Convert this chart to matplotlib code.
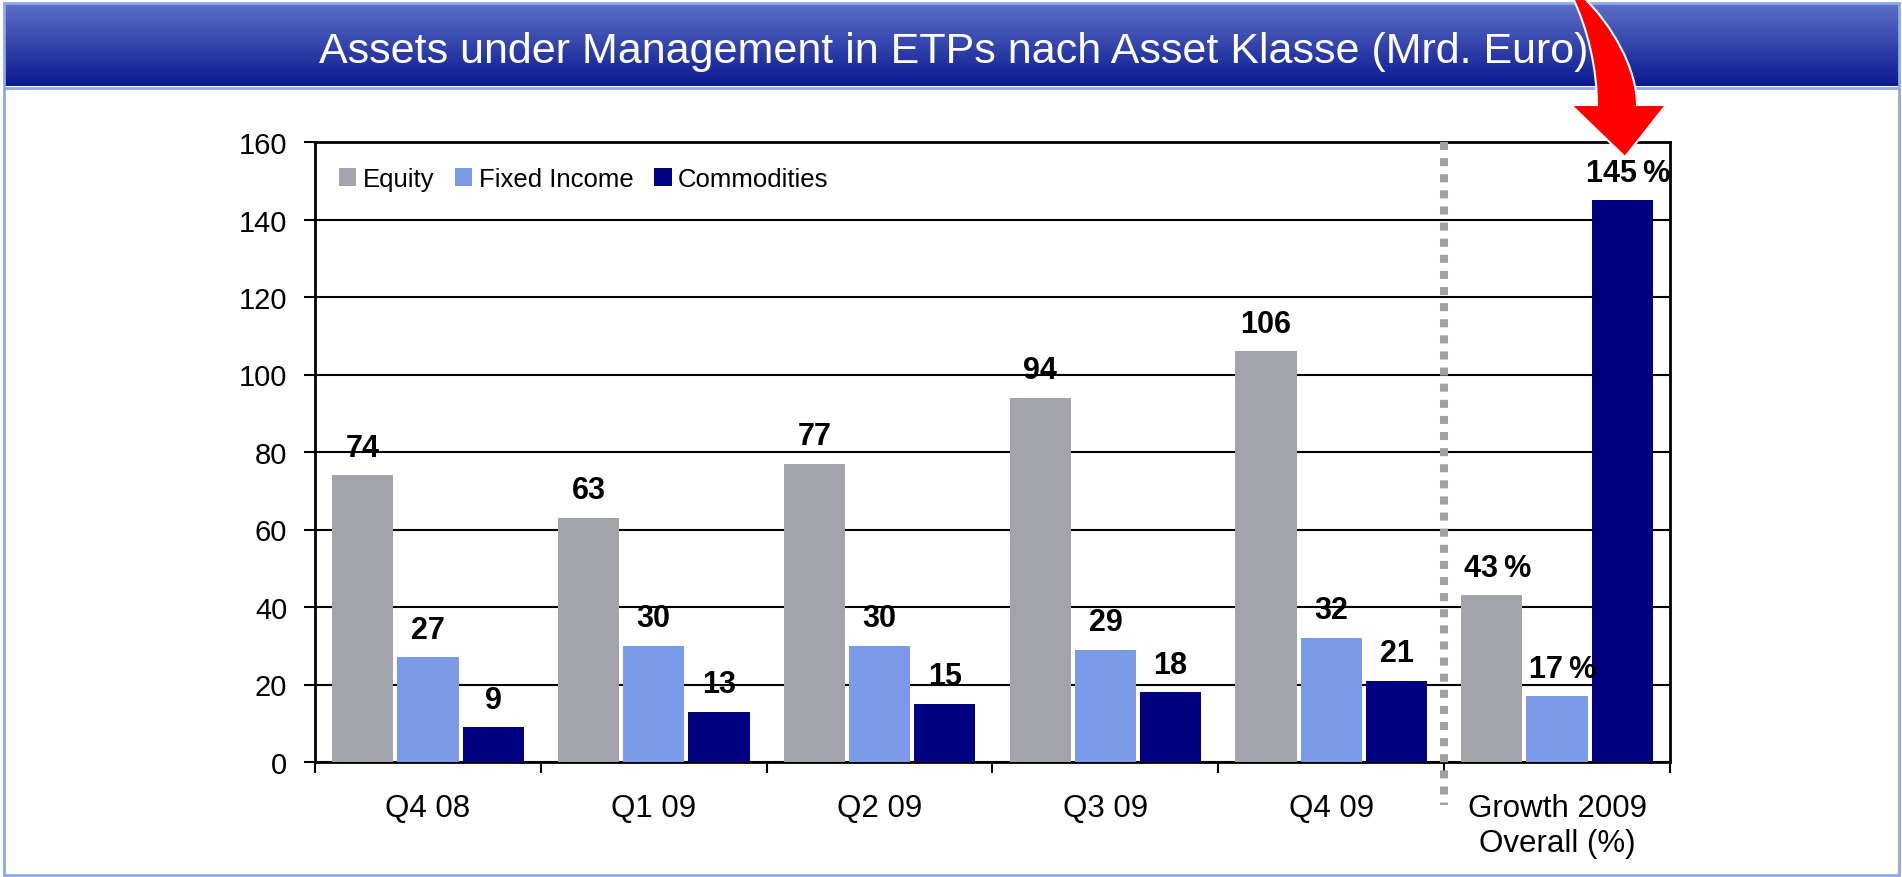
import numpy as np
import matplotlib
matplotlib.use("Agg")
import matplotlib.pyplot as plt
from matplotlib.patches import Patch, Rectangle, PathPatch
from matplotlib.path import Path

# data
categories = ["Q4 08", "Q1 09", "Q2 09", "Q3 09", "Q4 09", "Growth 2009\nOverall (%)"]
equity = [74, 63, 77, 94, 106, 43]
fixed_income = [27, 30, 30, 29, 32, 17]
commodities = [9, 13, 15, 18, 21, 145]
series_names = ["Equity", "Fixed Income", "Commodities"]
colors = ["#a3a3ab", "#7b9be8", "#000080"]
title = "Assets under Management in ETPs nach Asset Klasse (Mrd. Euro)"

plt.rcParams["font.family"] = ["Liberation Sans", "DejaVu Sans"]

W, H = 1902, 878
fig = plt.figure(figsize=(W / 100, H / 100), dpi=100)
fig.patch.set_facecolor("white")


def fx(x):
    return x / W


def fy(y):
    return 1 - y / H


# header banner with gradient
ax_ban = fig.add_axes([fx(5), fy(87), fx(1894), 83 / H])
top_c = np.array([0.37, 0.44, 0.78])
bot_c = np.array([0.04, 0.10, 0.57])
t = np.linspace(0, 1, 100)[:, None]
grad = top_c[None, :] * (1 - t) + bot_c[None, :] * t
ax_ban.imshow(grad[:, None, :], aspect="auto", extent=(0, 1, 0, 1))
ax_ban.set_axis_off()
fig.text(fx(954), fy(63), title, color="white", fontsize=31,
         ha="center", va="baseline", zorder=5)

# light blue frame and line under banner
fig.patches.append(Rectangle((fx(4), fy(876)), fx(1895), 872 / H, transform=fig.transFigure,
                             fill=False, edgecolor="#8ea8ea", lw=2, zorder=1))
fig.add_artist(plt.Line2D([fx(5), fx(1898)], [fy(88.5), fy(88.5)], color="#8ea8ea",
                          lw=2, transform=fig.transFigure))

# main chart
ax = fig.add_axes([fx(315), fy(763), fx(1670 - 315), (763 - 143) / H])
x = np.arange(len(categories))
w = 0.271
step = 0.289
all_series = [equity, fixed_income, commodities]
for i, (vals, c, name) in enumerate(zip(all_series, colors, series_names)):
    bars = ax.bar(x + (i - 1) * step, vals, width=w, color=c, zorder=3, label=name)
    for j, (b, v) in enumerate(zip(bars, vals)):
        if j == len(categories) - 1:
            txt, dx = f"{v}\u2009%", 4
        else:
            txt, dx = f"{v}", 0
        ax.annotate(txt, (b.get_x() + b.get_width() / 2, v), xytext=(dx, 9),
                    textcoords="offset points", ha="center", va="bottom",
                    fontsize=22, fontweight="bold", zorder=4, annotation_clip=False)

ax.set_xlim(-0.5, len(categories) - 0.5)
ax.set_ylim(0, 160)
ax.set_yticks(range(0, 161, 20))
ax.yaxis.grid(True, color="black", lw=1.5, zorder=1)
ax.set_axisbelow(True)
ax.set_xticks(x)
ax.set_xticklabels(categories, linespacing=1.25)
ax.set_xticks(np.arange(-0.5, len(categories), 1.0), minor=True)
ax.tick_params(axis="x", which="major", length=0, pad=22, labelsize=22.5)
ax.tick_params(axis="x", which="minor", length=8, width=1.5, direction="out")
ax.tick_params(axis="y", length=8, width=1.5, pad=12, labelsize=21)
for s in ax.spines.values():
    s.set_linewidth(2)
    s.set_color("black")

# dotted separator between quarters and growth
ax.plot([4.5, 4.5], [160, -11], color="#a0a0a8", lw=5.8, linestyle=(0, (1, 1)),
        clip_on=False, zorder=5)

handles = [Patch(facecolor=c, label=n) for c, n in zip(colors, series_names)]
ax.legend(handles=handles, loc="upper left", bbox_to_anchor=(0.0177, 0.96),
          ncol=3, frameon=False, fontsize=18.5, handlelength=0.68, handleheight=0.68,
          handletextpad=0.25, columnspacing=0.8, borderpad=0, borderaxespad=0)

# red curved arrow pointing at the 145%
verts = [(1572, -3), (1588, 30), (1597, 70), (1597, 106),
         (1571, 106), (1625, 158), (1666, 106), (1637, 106),
         (1637, 70), (1612, 25), (1582, -3), (1572, -3)]
codes = [Path.MOVETO, Path.CURVE4, Path.CURVE4, Path.CURVE4,
         Path.LINETO, Path.LINETO, Path.LINETO, Path.LINETO,
         Path.CURVE4, Path.CURVE4, Path.CURVE4, Path.CLOSEPOLY]
arrow = Path([(fx(a), fy(b)) for a, b in verts], codes)
fig.patches.append(PathPatch(arrow, facecolor="#ff0000", edgecolor="white", lw=1.5,
                             transform=fig.transFigure, zorder=10))

fig.savefig("out.png", dpi=100)
